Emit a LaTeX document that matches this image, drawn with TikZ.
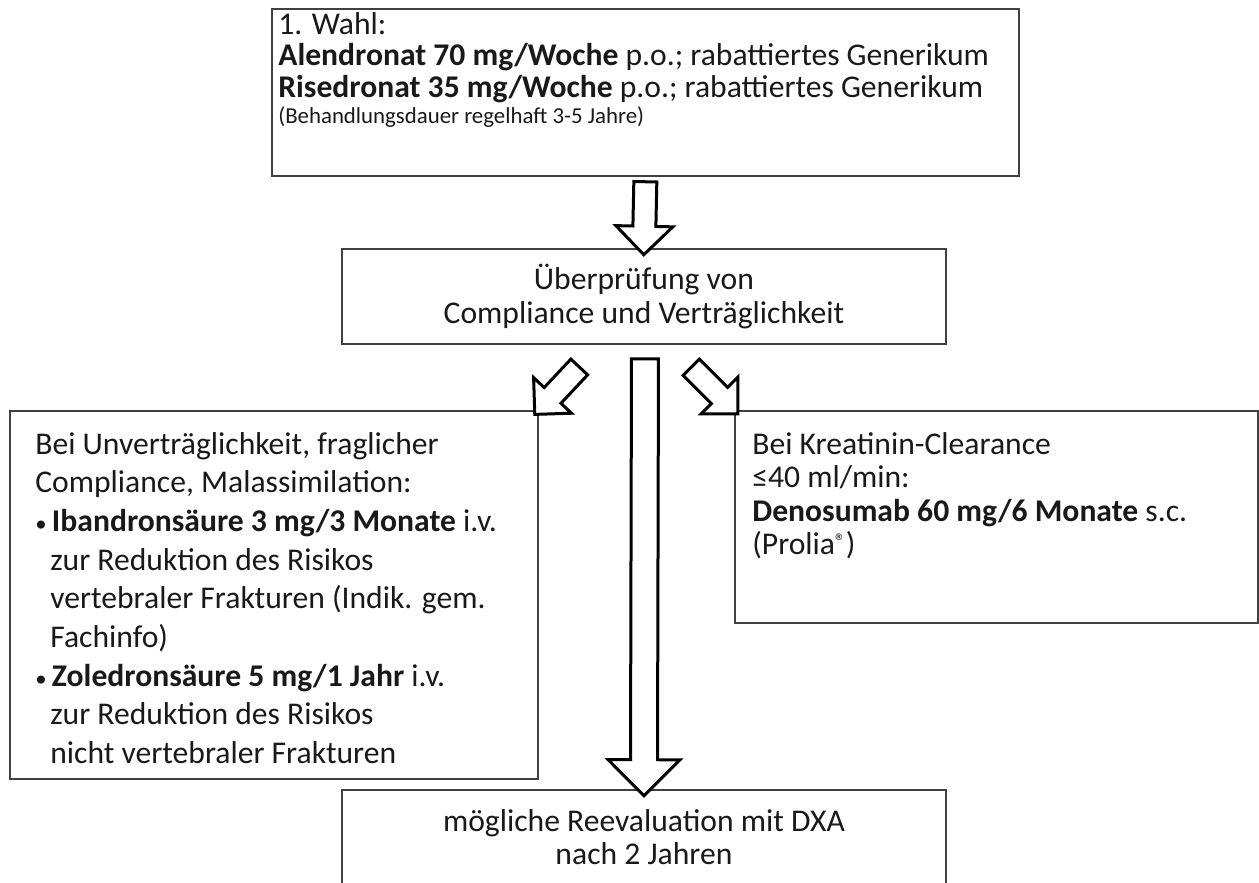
\documentclass[tikz,border=0pt]{standalone}
\usepackage{fontspec}
\setmainfont{Carlito}
\usetikzlibrary{shapes.arrows,positioning}
\definecolor{boxgray}{RGB}{64,64,64}
\definecolor{txtgray}{RGB}{25,25,25}
\newcommand{\ind}{\hspace*{0.3cm}}
\newcommand{\bul}{{\fontsize{13}{13}\selectfont\textbullet}\,}
\tikzset{
    box/.style={draw=boxgray, line width=0.04cm, anchor=north west, inner sep=0pt},
    txt/.style={anchor=north west, align=left, inner sep=0pt, text=txtgray,
        font=\fontsize{18}{22}\selectfont},
    tight/.style={font=\fontsize{18}{19}\selectfont},
    ctxt/.style={txt, tight, anchor=center, align=center},
    hollow/.style={single arrow, draw=black, line width=0.06cm, fill=white,
        inner xsep=0pt, inner ysep=0.2cm,
        single arrow head indent=0pt, midway, sloped, allow upside down}
}
\begin{document}
\begin{tikzpicture}[x=0.02cm, y=-0.02cm]
    \clip (0,0) rectangle (1259,883);

    % boxes
    \node[box, minimum width=14.94cm, minimum height=3.34cm] (wahl) at (271,8) {};
    \node[box, minimum width=12.08cm, minimum height=1.9cm] (check) at (341,248) {};
    \node[box, minimum width=10.56cm, minimum height=7.36cm] (alt) at (9,410) {};
    \node[box, minimum width=10.46cm, minimum height=4.24cm] (krea) at (734,410) {};
    \node[box, minimum width=12.08cm, minimum height=2.4cm] (dxa) at (341,789) {};

    % texts
    \node[txt, font=\fontsize{18}{18}\selectfont, below right=0.08cm and 0.14cm of wahl.north west] (wahltxt) {1. Wahl:\\
        \textbf{Alendronat 70 mg/Woche} p.o.; rabattiertes Generikum\\
        \textbf{Risedronat 35 mg/Woche} p.o.; rabattiertes Generikum\\[-3pt]
        {\fontsize{13}{16}\selectfont (Behandlungsdauer regelhaft 3-5 Jahre)}};
    \node[ctxt] (checktxt) at (check) {Überprüfung von\\ Compliance und Verträglichkeit};
    \node[txt, below right=0.44cm and 0.52cm of alt.north west] (alttxt) {Bei Unverträglichkeit, fraglicher\\
        Compliance, Malassimilation:\\
        \bul\textbf{Ibandronsäure 3 mg/3 Monate} i.v.\\
        \ind zur Reduktion des Risikos\\
        \ind vertebraler Frakturen (Indik. gem.\\
        \ind Fachinfo)\\
        \bul\textbf{Zoledronsäure 5 mg/1 Jahr} i.v.\\
        \ind zur Reduktion des Risikos\\
        \ind nicht vertebraler Frakturen};
    \node[txt, tight, below right=0.44cm and 0.36cm of krea.north west] (kreatxt) {Bei Kreatinin-Clearance\\
        ≤40 ml/min:\\
        \textbf{Denosumab 60 mg/6 Monate} s.c.\\
        (Prolia{\fontsize{12}{12}\selectfont\raisebox{0.3em}{®}})};
    \node[ctxt, below=0.4cm of dxa.north] (dxatxt) {mögliche Reevaluation mit DXA\\ nach 2 Jahren};

    % block arrows
    \coordinate (ltail) at (583,363);
    \coordinate (rtail) at (687,363);
    \coordinate (mtail) at (645,352);
    \path (wahl.south) -- (check.north) node[hollow, minimum height=1.46cm, minimum width=1.08cm,
        single arrow head extend=0.34cm] (arrwahl) {};
    \path (ltail) -- (alt.north east) node[hollow, minimum height=1.3cm, minimum width=0.98cm,
        single arrow head extend=0.29cm] (arralt) {};
    \path (rtail) -- (krea.north west) node[hollow, minimum height=1.32cm, minimum width=0.98cm,
        single arrow head extend=0.29cm] (arrkrea) {};
    \path (mtail) -- (dxa.north) node[hollow, inner ysep=0.24cm, minimum height=8.74cm, minimum width=1.38cm,
        single arrow head extend=0.45cm] (arrdxa) {};
\end{tikzpicture}
\end{document}
